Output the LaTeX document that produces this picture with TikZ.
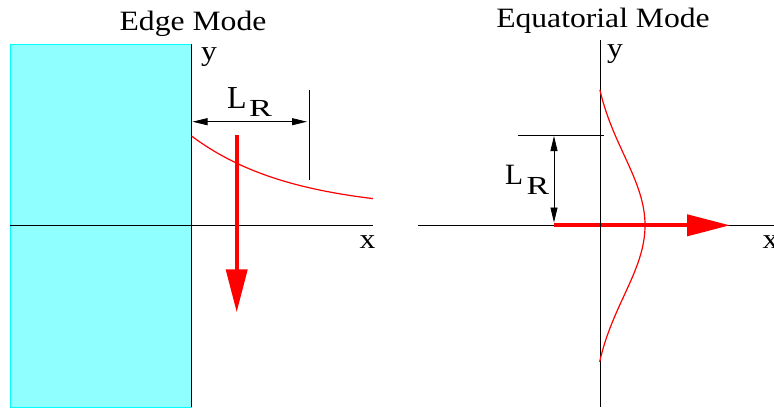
\documentclass[tikz,border=0pt]{standalone}
\usepackage{fontspec}
\setmainfont{Liberation Serif}
\usetikzlibrary{arrows.meta}
\definecolor{pool}{HTML}{8FFFFF}
\definecolor{pooledge}{HTML}{00FFFF}
\tikzset{
  axis/.style={line width=1pt, black},
  lbl/.style={inner sep=0pt, font=\fontsize{28}{30}\selectfont},
  dimline/.style={line width=0.8pt, {Triangle[length=15pt,width=7pt]}-{Triangle[length=15pt,width=7pt]}},
  flow/.style={red, line width=4pt, -{Triangle[length=43pt,width=21pt]}},
  profile/.style={red, line width=1.2pt},
  thin tick/.style={line width=0.8pt, black},
}
\begin{document}
\begin{tikzpicture}[x=1pt,y=-1pt]
\useasboundingbox (0,0) rectangle (774,408);
% ---------- left panel: Edge Mode ----------
\fill[pool, draw=pooledge, line width=1pt] (10,44) rectangle (191.5,407);
\coordinate (lyT) at (191.5,44);  \coordinate (lyB) at (191.5,407);
\coordinate (lxL) at (10,225.3);  \coordinate (lxR) at (373,225.3);
\draw[axis] (lyT) -- (lyB);
\draw[axis] (lxL) -- (lxR);
\draw[profile] plot[domain=0:181.5, samples=60, variable=\t]
  ({191.5+\t},{225.3-14.5-74.8*exp(-\t/100)});
\coordinate (tkT) at (309,90);  \coordinate (tkB) at (309,180);
\draw[thin tick] (tkT) -- (tkB);
\coordinate (dA) at (192.5,121.7);  \coordinate (dB) at (307,121.7);
\draw[dimline] (dA) -- (dB);
\coordinate (eS) at (236.7,135);  \coordinate (eE) at (236.7,312.3);
\draw[flow] (eS) -- (eE);
\node[lbl, anchor=base] (t1) at (193,30) {\scalebox{1.13}[1]{Edge Mode}};
\node[lbl, anchor=base] (ly) at (209,60) {\scalebox{1.13}[1]{y}};
\node[lbl, anchor=base] (lx) at (367.5,248.3) {\scalebox{1.13}[1]{x}};
\node[inner sep=0pt, anchor=base west, font=\fontsize{32}{34}\selectfont] (LL1) at (227,108.3) {L};
\node[inner sep=0pt, anchor=base west, font=\fontsize{24.5}{26}\selectfont] (LR1) at (249,116) {\scalebox{1.4}[1]{R}};
% ---------- right panel: Equatorial Mode ----------
\coordinate (ryT) at (600,40);  \coordinate (ryB) at (600,407);
\coordinate (rxL) at (418.3,225.3);  \coordinate (rxR) at (774,225.3);
\draw[axis] (rxL) -- (rxR);
\coordinate (fS) at (554,225.3);  \coordinate (fE) at (730,225.3);
\draw[flow] (fS) -- (fE);
\draw[axis] (ryT) -- (ryB);
\draw[profile] plot[domain=-135.5:136.5, samples=80, variable=\t]
  ({600+45*(exp(-1*(\t/100)*(\t/100))-0.1616)/0.8384},{225.3+\t});
\coordinate (hkL) at (518.3,135);  \coordinate (hkR) at (604,135);
\draw[thin tick] (hkL) -- (hkR);
\coordinate (vA) at (554,136);  \coordinate (vB) at (554,222.5);
\draw[dimline] (vA) -- (vB);
\node[lbl, anchor=base] (t2) at (603,27.3) {\scalebox{1.13}[1]{Equatorial Mode}};
\node[lbl, anchor=base] (ry) at (615,57) {\scalebox{1.13}[1]{y}};
\node[lbl, anchor=base] (rx) at (770.5,248.3) {\scalebox{1.13}[1]{x}};
\node[inner sep=0pt, anchor=base west, font=\fontsize{29.5}{31}\selectfont] (LL2) at (505,184.3) {L};
\node[inner sep=0pt, anchor=base west, font=\fontsize{26}{28}\selectfont] (LR2) at (526.5,194) {\scalebox{1.3}[1]{R}};
\end{tikzpicture}
\end{document}
